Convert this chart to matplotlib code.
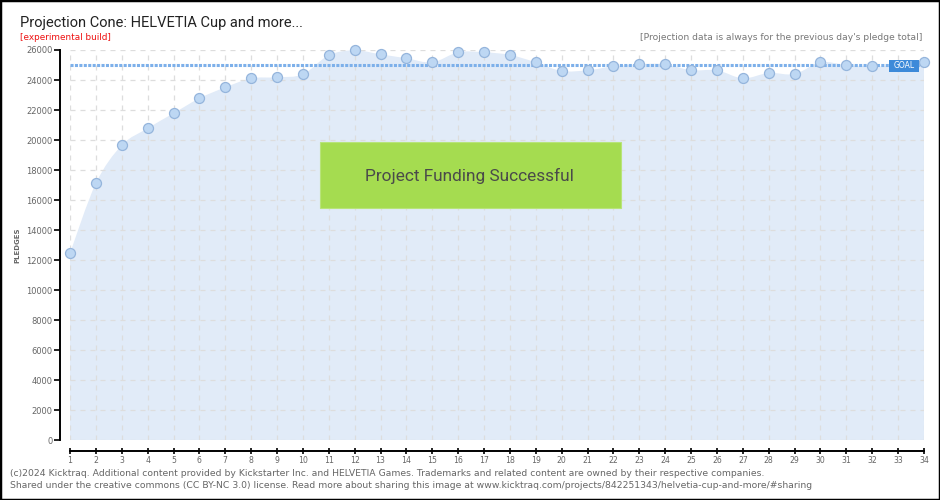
import numpy as np
import matplotlib
matplotlib.use("Agg")
import matplotlib.pyplot as plt
from matplotlib.path import Path
from matplotlib.patches import PathPatch, Rectangle

days = list(range(1, 35))
pledges = [12450, 17110, 19650, 20780, 21780, 22780, 23510, 24110, 24180, 24380,
           25650, 25980, 25710, 25450, 25180, 25850, 25850, 25670, 25180, 24600,
           24650, 24910, 25050, 25050, 24650, 24650, 24110, 24470, 24400, 25180,
           25000, 24910, 24950, 25180]
goal = 25000
y_ticks = list(range(0, 26001, 2000))

W, H = 940, 500
fig = plt.figure(figsize=(W / 100, H / 100), dpi=100)
fig.patch.set_facecolor("white")

# axes placed in pixel units: day 1 at x=70, day 34 at x=924, 0 at y=440, 26000 at y=50
ax = fig.add_axes([70 / W, (H - 440) / H, (924 - 70) / W, (440 - 50) / H])
ax.set_xlim(1, 34)
ax.set_ylim(0, 26000)
ax.set_facecolor("none")

# smooth curve through the points (cardinal spline as bezier path)
x = np.array(days, dtype=float)
y = np.array(pledges, dtype=float)
n = len(x)
verts = [(x[0], 0), (x[0], y[0])]
codes = [Path.MOVETO, Path.LINETO]
for i in range(n - 1):
    p0 = np.array([x[max(i - 1, 0)], y[max(i - 1, 0)]])
    p1 = np.array([x[i], y[i]])
    p2 = np.array([x[i + 1], y[i + 1]])
    p3 = np.array([x[min(i + 2, n - 1)], y[min(i + 2, n - 1)]])
    c1 = p1 + (p2 - p0) / 6
    c2 = p2 - (p3 - p1) / 6
    verts += [tuple(c1), tuple(c2), tuple(p2)]
    codes += [Path.CURVE4] * 3
verts += [(x[-1], 0), (x[0], 0)]
codes += [Path.LINETO, Path.CLOSEPOLY]
ax.add_patch(PathPatch(Path(verts, codes), facecolor="#e1ebf8", edgecolor="none", zorder=1))

# grid
for d in days:
    ax.axvline(d, color="#dddddd", lw=0.9, ls=(0, (4, 4)), zorder=2)
for t in y_ticks:
    ax.axhline(t, color="#dddddd", lw=0.9, ls=(0, (4, 4)), zorder=2)

# goal line
ax.plot([1, 34], [goal, goal], color="#7db0ea", lw=2.2, ls=(0, (1, 0.45)),
        solid_capstyle="butt", zorder=3)

ax.plot(days, pledges, ls="none", marker="o", ms=7.2, mfc="#bdd7f3",
        mec="#95b5dc", mew=0.9, zorder=5, clip_on=False)

# axes styling
for s in ["top", "right"]:
    ax.spines[s].set_visible(False)
ax.spines["left"].set_position(("outward", 7))
ax.spines["bottom"].set_position(("outward", 8))
ax.spines["left"].set_linewidth(1.4)
ax.spines["bottom"].set_linewidth(1.4)
ax.set_yticks(y_ticks)
ax.set_yticklabels([str(t) for t in y_ticks])
ax.set_xticks(days)
ax.set_xticklabels([str(d) for d in days])
ax.tick_params(axis="y", direction="out", length=4, width=1.2, pad=1.5,
               labelsize=6.0, labelcolor="#666666")
ax.tick_params(axis="x", direction="inout", length=5, width=1.2, pad=1,
               labelsize=5.6, labelcolor="#666666")
fig.text(17 / W, 1 - 245 / H, "PLEDGES", rotation=90, ha="center", va="center",
         fontsize=5, color="#666666", fontweight="bold")

# success box
fig.patches.append(Rectangle((320 / W, 1 - 208 / H), 301 / W, 66 / H,
                             transform=fig.transFigure, facecolor="#a5dc50",
                             edgecolor="#b8e47a", lw=0.8, zorder=6))
fig.text(469 / W, 1 - 176 / H, "Project Funding Successful", ha="center", va="center",
         fontsize=12.4, color="#4a4a4a", zorder=7, family=["Roboto", "DejaVu Sans"])

# goal label
fig.patches.append(Rectangle((889 / W, 1 - 72 / H), 30 / W, 12 / H,
                             transform=fig.transFigure, facecolor="#3d8ad9",
                             edgecolor="none", zorder=6))
fig.text(904 / W, 1 - 66 / H, "GOAL", ha="center", va="center", fontsize=5.5,
         color="white", zorder=7)

# titles
fig.text(20 / W, 1 - 23 / H, "Projection Cone: HELVETIA Cup and more...", ha="left",
         va="center", fontsize=10.5, color="#222222", family=["Roboto", "DejaVu Sans"])
fig.text(20 / W, 1 - 37 / H, "[experimental build]", ha="left", va="center",
         fontsize=6.4, color="#ee1111")
fig.text(922 / W, 1 - 37 / H,
         "[Projection data is always for the previous day's pledge total]",
         ha="right", va="center", fontsize=6.6, color="#777777")

# footer
fig.text(10 / W, 1 - 474 / H,
         "(c)2024 Kicktraq. Additional content provided by Kickstarter Inc. and HELVETIA Games. "
         "Trademarks and related content are owned by their respective companies.",
         ha="left", va="center", fontsize=6.65, color="#666666")
fig.text(10 / W, 1 - 485 / H,
         "Shared under the creative commons (CC BY-NC 3.0) license. Read more about sharing this "
         "image at www.kicktraq.com/projects/842251343/helvetia-cup-and-more/#sharing",
         ha="left", va="center", fontsize=6.65, color="#666666")

# outer frame
fig.patches.append(Rectangle((0, 0), 1, 1, transform=fig.transFigure,
                             facecolor="none", edgecolor="black", lw=2.5, zorder=10))

fig.savefig("out.png", dpi=100)
